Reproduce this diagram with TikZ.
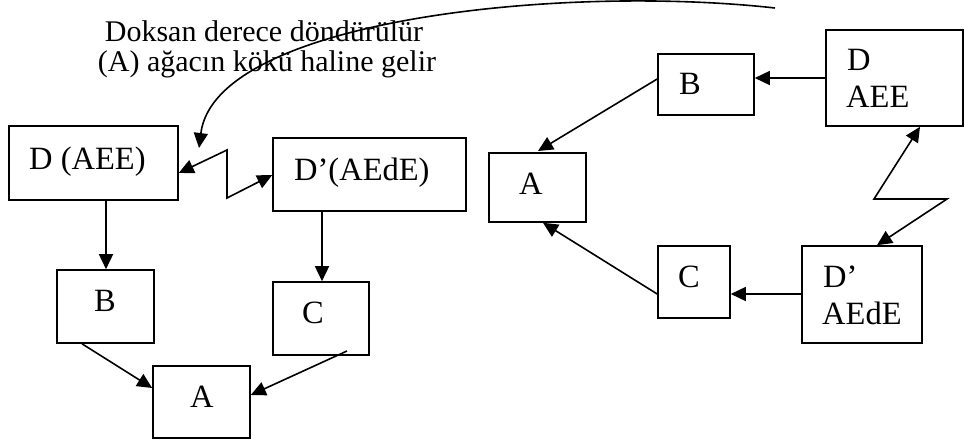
\documentclass[tikz,border=0pt]{standalone}
\usepackage{fontspec}
\setmainfont{Liberation Serif}
\usetikzlibrary{arrows.meta,fit}

\begin{document}
\begin{tikzpicture}[x=1pt,y=-1pt,
  box/.style={draw, line width=1.6pt, inner sep=0pt, rectangle},
  conn/.style={line width=1.6pt, -{Triangle[length=15pt,width=14pt]}},
  biconn/.style={line width=1.6pt, {Triangle[length=15pt,width=14pt]}-{Triangle[length=15pt,width=14pt]}},
  lbl/.style={inner sep=0pt, anchor=base west, font=\fontsize{32.5}{37}\selectfont},
  caption/.style={inner sep=0pt, anchor=base, font=\fontsize{30}{30}\selectfont}]
\useasboundingbox[fill=white] (0,0) rectangle (964,441);

% ---- left tree ----
\node[box, fit={(9,126) (178,200)}]   (DL)  {};
\node[box, fit={(273,138) (466,211)}] (DpL) {};
\node[box, fit={(57,270) (154,343)}]  (BL)  {};
\node[box, fit={(273,282) (369,355)}] (CL)  {};
\node[box, fit={(153,366) (250,438)}] (AL)  {};

\node[lbl] (tDL)  at (29,169)  {D (AEE)};
\node[lbl] (tDpL) at (294,180) {D’(AEdE)};
\node[lbl] (tBL)  at (94,311)  {B};
\node[lbl] (tCL)  at (302,323) {C};
\node[lbl] (tAL)  at (190,407) {A};

% ---- right tree ----
\node[box, fit={(826,30) (963,126)}]  (DR)  {};
\node[box, fit={(658,54) (754,115)}]  (BR)  {};
\node[box, fit={(489,153) (586,222)}] (AR)  {};
\node[box, fit={(658,246) (730,318)}] (CR)  {};
\node[box, fit={(802,246) (922,343)}] (DpR) {};

\node[lbl] (tDR1)  at (847,71)  {D};
\node[lbl] (tDR2)  at (846,108) {AEE};
\node[lbl] (tBR)   at (679,95)  {B};
\node[lbl] (tAR)   at (519,194) {A};
\node[lbl] (tCR)   at (678,287) {C};
\node[lbl] (tDpR1) at (823,287) {D’};
\node[lbl] (tDpR2) at (822,324) {AEdE};

% ---- caption ----
\node[caption] (cap1) at (264,42) {Doksan derece döndürülür};
\node[caption] (cap2) at (267,72) {(A) ağacın kökü haline gelir};

% ---- left connectors ----
\draw[conn] (DL.south -| 106,0) -- (BL.north -| 106,0);
\draw[conn] (DpL.south -| 322,0) -- (CL.north -| 322,0);
\draw[conn] (BL.south -| 82,0) -- (AL.west |- 0,388);
\draw[conn] (347,351) -- (AL.east |- 0,395);
\draw[biconn] (DL.east |- 0,173) -- (227,150) -- (227,198) -- (DpL.west |- 0,175);

% ---- right connectors ----
\draw[conn] (DR.west |- 0,78) -- (BR.east |- 0,78);
\draw[conn] (BR.west |- 0,79) -- (538,151);
\draw[conn] (DpR.west |- 0,294) -- (CR.east |- 0,294);
\draw[conn] (CR.west |- 0,294) -- (AR.south -| 543,0);
\draw[biconn] (DR.south -| 920,0) -- (874,199) -- (947,199) -- (DpR.north -| 877,0);

% ---- rotation arrow ----
\coordinate (rotStart) at (775,8);
\coordinate (rotEnd)   at (199,148);
\draw[conn] (rotStart) .. controls (560,-16) and (215,20) .. (rotEnd);
\end{tikzpicture}
\end{document}
